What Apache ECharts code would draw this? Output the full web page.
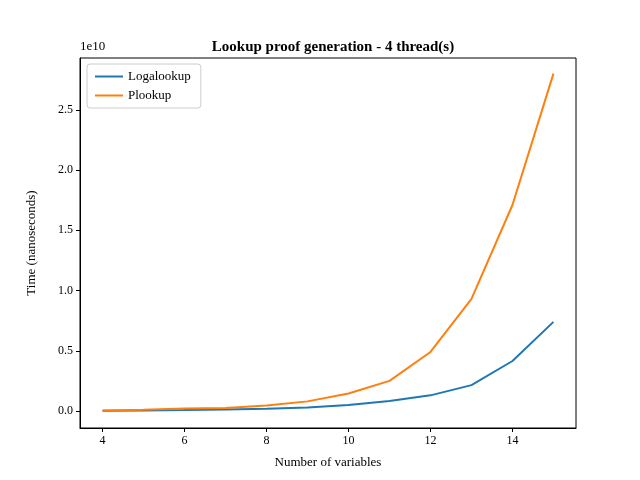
<!DOCTYPE html>
<html>
<head>
<meta charset="utf-8">
<script src="https://cdn.jsdelivr.net/npm/echarts@6/dist/echarts.min.js"></script>
<style>html,body{margin:0;padding:0;background:#fff}#chart{width:640px;height:480px}</style>
</head>
<body>
<div id="chart"></div>
<script>
const variables = [4, 5, 6, 7, 8, 9, 10, 11, 12, 13, 14, 15]
// values in units of 1e10 ns
const logalookup = [0.003, 0.005, 0.008, 0.012, 0.018, 0.03, 0.05, 0.083, 0.13, 0.215, 0.415, 0.74]
const plookup = [0.005, 0.01, 0.02, 0.025, 0.045, 0.08, 0.145, 0.25, 0.49, 0.93, 1.71, 2.8]
const xTicks = [4, 6, 8, 10, 12, 14]
const yTicks = [0, 0.5, 1, 1.5, 2, 2.5]

const font = 'Liberation Serif'
const chart = echarts.init(document.getElementById('chart'))
const pairs = arr => variables.map((v, i) => [v, arr[i]])

chart.setOption({
    textStyle: { fontFamily: font },
    animation: false,
    title: {
        text: 'Lookup proof generation - 4 thread(s)',
        left: 328, top: 35, textAlign: 'center',
        textStyle: { fontFamily: font, fontSize: 15, fontWeight: 'bold', color: '#000' }
    },
    graphic: [{ type: 'text', left: 80, top: 40, style: { text: '1e10', font: '13px Liberation Serif', fill: '#000' } }],
    legend: {
        orient: 'vertical', left: 87, top: 64,
        padding: [6, 10, 6, 8], itemGap: 6,
        borderColor: '#ccc', borderWidth: 1, borderRadius: 3,
        icon: 'rect', itemWidth: 28, itemHeight: 2,
        textStyle: { fontFamily: font, fontSize: 13, color: '#000' }
    },
    grid: { left: 80, right: 64, top: 58, bottom: 52, show: true, borderColor: '#000', borderWidth: 1 },
    xAxis: {
        type: 'value', min: 3.45, max: 15.55,
        name: 'Number of variables', nameLocation: 'middle', nameGap: 28,
        nameTextStyle: { fontFamily: font, fontSize: 13, color: '#000' },
        axisLine: { show: true, onZero: false, lineStyle: { color: '#000' } },
        axisTick: { show: true, inside: false, length: 4, customValues: xTicks, lineStyle: { color: '#000' } },
        axisLabel: { customValues: xTicks, color: '#000', fontSize: 12, margin: 7 },
        splitLine: { show: false }
    },
    yAxis: {
        type: 'value', min: -0.141, max: 2.93,
        name: 'Time (nanoseconds)', nameLocation: 'middle', nameGap: 42,
        nameTextStyle: { fontFamily: font, fontSize: 13, color: '#000' },
        axisLine: { show: true, onZero: false, lineStyle: { color: '#000' } },
        axisTick: { show: true, length: 4, customValues: yTicks, lineStyle: { color: '#000' } },
        axisLabel: { customValues: yTicks, color: '#000', fontSize: 12, margin: 7, formatter: v => v.toFixed(1) },
        splitLine: { show: false }
    },
    series: [
        { name: 'Logalookup', type: 'line', data: pairs(logalookup), showSymbol: false, color: '#1f77b4', lineStyle: { width: 2 } },
        { name: 'Plookup', type: 'line', data: pairs(plookup), showSymbol: false, color: '#ff7f0e', lineStyle: { width: 2 } }
    ]
})
</script>
</body>
</html>
